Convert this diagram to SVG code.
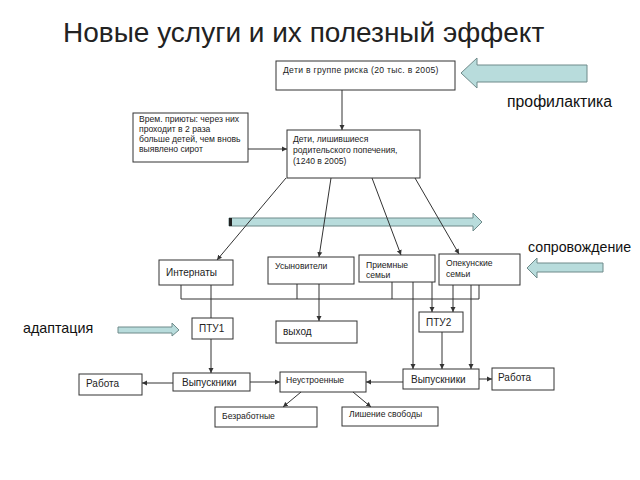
<svg xmlns="http://www.w3.org/2000/svg" width="640" height="480" viewBox="0 0 640 480">
<style>
.box{fill:#fff;stroke:#333;stroke-width:1}
.t{font-family:"Liberation Sans",Arial,sans-serif;fill:#222}
.s{font-size:8.6px}
.m{font-size:10px}
.big{fill:#111}
.c{fill:none;stroke:#333;stroke-width:1}
.ca{fill:none;stroke:#333;stroke-width:1;marker-end:url(#ah)}
.barrow{fill:#b8dcdc;stroke:#6f8a8a;stroke-width:1}
</style>
<defs>
<marker id="ah" markerWidth="6" markerHeight="6" refX="5" refY="3" orient="auto" markerUnits="userSpaceOnUse">
<path d="M0,0.5 L5,3 L0,5.5 z" fill="#333"/>
</marker>
</defs>
<rect width="640" height="480" fill="#fff"/>
<text class="t" x="63" y="42" font-size="28" fill="#111">Новые услуги и их полезный эффект</text>

<g id="risk"><rect class="box" x="276" y="61" width="179" height="29"/><text class="t s" x="283" y="73" letter-spacing="0.3">Дети в группе риска  (20 тыс. в 2005)</text></g>
<g id="orphans"><rect class="box" x="287" y="130" width="133" height="48"/><text class="t s"><tspan x="293" y="142">Дети, лишившиеся</tspan><tspan x="293" y="153">родительского попечения,</tspan><tspan x="293" y="164">(1240 в 2005)</tspan></text></g>
<g id="shelters"><rect class="box" x="133" y="113" width="115" height="49"/><text class="t s"><tspan x="139" y="122">Врем. приюты: через них</tspan><tspan x="139" y="132">проходит в 2 раза</tspan><tspan x="139" y="142">больше детей, чем вновь</tspan><tspan x="139" y="152">выявлено сирот</tspan></text></g>

<g id="internaty"><rect class="box" x="159" y="260" width="74" height="25"/><text class="t m" x="166" y="276">Интернаты</text></g>
<g id="usynoviteli"><rect class="box" x="268" y="257" width="86" height="27"/><text class="t s" x="275" y="269">Усыновители</text></g>
<g id="priemnye"><rect class="box" x="359" y="255" width="76" height="27"/><text class="t s"><tspan x="366" y="268">Приемные</tspan><tspan x="366" y="278">семьи</tspan></text></g>
<g id="opekunskie"><rect class="box" x="439" y="254" width="81" height="31"/><text class="t s"><tspan x="446" y="266">Опекунские</tspan><tspan x="446" y="277">семьи</tspan></text></g>

<g id="ptu1"><rect class="box" x="192" y="318" width="41" height="21"/><text class="t m" x="199" y="332">ПТУ1</text></g>
<g id="vyhod"><rect class="box" x="276" y="321" width="81" height="22"/><text class="t m" x="283" y="335">выход</text></g>
<g id="ptu2"><rect class="box" x="419" y="312" width="44" height="20"/><text class="t m" x="426" y="326">ПТУ2</text></g>

<g id="vyp1"><rect class="box" x="173" y="373" width="77" height="18"/><text class="t m" x="182" y="386">Выпускники</text></g>
<g id="rabota1"><rect class="box" x="79" y="374" width="63" height="21"/><text class="t m" x="86" y="387">Работа</text></g>
<g id="neustr"><rect class="box" x="280" y="372" width="86" height="20"/><text class="t s" x="286" y="383">Неустроенные</text></g>
<g id="vyp2"><rect class="box" x="403" y="369" width="76" height="20"/><text class="t m" x="411" y="383">Выпускники</text></g>
<g id="rabota2"><rect class="box" x="492" y="368" width="62" height="22"/><text class="t m" x="498" y="381">Работа</text></g>
<g id="bezrab"><rect class="box" x="215" y="407" width="102" height="20"/><text class="t s" x="222" y="419">Безработные</text></g>
<g id="lishenie"><rect class="box" x="342" y="407" width="96" height="19"/><text class="t s" x="349" y="417">Лишение свободы</text></g>

<g id="labels">
<text class="t big" x="507" y="107" style="font-size:15.8px">профилактика</text>
<text class="t big" x="528" y="252" style="font-size:14.2px">сопровождение</text>
<text class="t big" x="23" y="333" style="font-size:14.3px">адаптация</text>
</g>

<g id="big-arrows">
<path class="barrow" d="M587,65 L477,65 L477,58 L461,73 L477,88 L477,82 L587,82 z"/>
<path class="barrow" d="M603,263 L537,263 L537,258 L527,268 L537,278 L537,272 L603,272 z"/>
<path class="barrow" d="M118,327 L172,327 L172,323 L179,330 L172,336 L172,333 L118,333 z"/>
<path class="barrow" d="M229,218 L473,218 L473,213 L482,222 L473,231 L473,226 L229,226 z"/>
<rect x="229" y="218" width="3" height="8" fill="#222"/>
</g>

<g id="connectors">
<line class="ca" x1="342" y1="90" x2="342" y2="130"/>
<line class="ca" x1="248" y1="149" x2="287" y2="149"/>
<line class="ca" x1="286" y1="178" x2="217" y2="260"/>
<line class="ca" x1="331" y1="178" x2="319" y2="257"/>
<line class="ca" x1="372" y1="178" x2="401" y2="255"/>
<line class="ca" x1="415" y1="178" x2="459" y2="254"/>
<polyline class="c" points="181,285 181,299 479,299 479,285"/>
<line class="c" x1="297" y1="284" x2="297" y2="299"/>
<line class="c" x1="392" y1="282" x2="392" y2="299"/>
<line class="c" x1="211" y1="285" x2="211" y2="318"/>
<line class="ca" x1="211" y1="339" x2="211" y2="373"/>
<line class="ca" x1="319" y1="284" x2="319" y2="321"/>
<line class="ca" x1="413" y1="282" x2="413" y2="369"/>
<line class="ca" x1="432" y1="282" x2="432" y2="312"/>
<line class="ca" x1="453" y1="285" x2="453" y2="312"/>
<line class="ca" x1="471" y1="285" x2="471" y2="369"/>
<line class="ca" x1="442" y1="332" x2="442" y2="369"/>
<line class="ca" x1="479" y1="379" x2="492" y2="379"/>
<line class="ca" x1="403" y1="382" x2="366" y2="382"/>
<line class="ca" x1="250" y1="382" x2="280" y2="382"/>
<line class="ca" x1="173" y1="383" x2="142" y2="383"/>
<line class="ca" x1="301" y1="392" x2="283" y2="407"/>
<line class="ca" x1="353" y1="392" x2="371" y2="407"/>
</g>
</svg>
